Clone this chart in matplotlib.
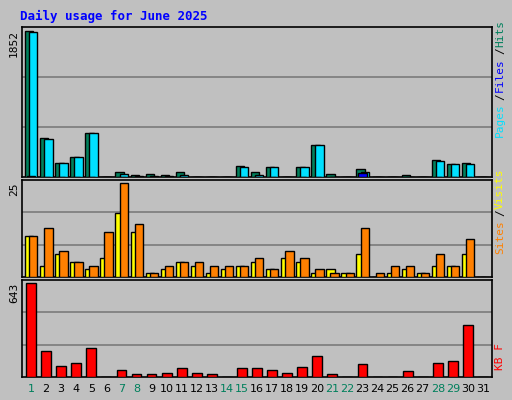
import matplotlib
matplotlib.use("Agg")
import matplotlib.pyplot as plt
import numpy as np

days = list(range(1, 32))
weekend = [1, 7, 8, 14, 15, 21, 22, 28, 29]
hits = [1852, 495, 178, 254, 558, 0, 63, 25, 38, 25, 63, 0, 0, 0, 140, 63, 127, 0, 127, 406, 38, 0, 100, 0, 0, 25, 0, 215, 165, 178, 0]
files = [1840, 482, 178, 254, 558, 0, 38, 10, 10, 10, 25, 0, 0, 0, 127, 25, 127, 0, 127, 406, 0, 0, 63, 0, 0, 0, 0, 203, 165, 165, 0]
pages = [8, 0, 0, 0, 0, 0, 0, 0, 0, 0, 0, 0, 0, 0, 0, 0, 0, 0, 0, 0, 0, 0, 50, 0, 0, 0, 0, 0, 0, 0, 0]
visits = [11, 13, 7, 4, 3, 12, 25, 14, 1, 3, 4, 4, 3, 3, 3, 5, 2, 7, 5, 2, 1, 1, 13, 1, 3, 3, 1, 6, 3, 10, 0]
sites = [11, 3, 6, 4, 2, 5, 17, 12, 1, 2, 4, 3, 1, 2, 3, 4, 2, 5, 4, 1, 2, 1, 6, 0, 1, 2, 1, 3, 3, 6, 0]
kbytes = [643, 175, 75, 98, 196, 0, 47, 19, 19, 26, 61, 26, 19, 0, 61, 61, 47, 26, 68, 145, 19, 0, 89, 0, 0, 40, 0, 98, 110, 354, 0]

W, H = 512, 400
fig = plt.figure(figsize=(W/100, H/100), dpi=100, facecolor="#C0C0C0")
mono = "DejaVu Sans Mono"
fig.text(20/W, 1-16/H, "Daily usage for June 2025", color="#0000FF", fontsize=9,
         fontweight="bold", family=mono, va="center")

x = np.array(days)
L, R = 22/W, 492/W

def panel(top, bot, series, colors, offsets, width, maxval):
    ax = fig.add_axes([L, 1-bot/H, R-L, (bot-top)/H])
    ax.set_facecolor("#C0C0C0")
    for s, c, o in zip(series, colors, offsets):
        ax.bar(x + o, s, width=width, color=c, edgecolor="black", linewidth=1, zorder=3)
    ymax = maxval * 1.03
    ax.set_ylim(0, ymax)
    ax.set_xlim(0.4, 31.6)
    for g in (ymax/3, 2*ymax/3):
        ax.axhline(g, color="#808080", linewidth=1.3, zorder=1)
    ax.set_xticks([]); ax.set_yticks([])
    for sp in ax.spines.values():
        sp.set_linewidth(1.2)
    fig.text(L-8/W, 1-(top+3)/H, str(maxval), rotation=90, ha="center", va="top",
             fontsize=8, family=mono)
    return ax

panel(27, 177, [hits, files, pages], ["#00805C", "#00E0FF", "#0000FF"], [-0.12, 0.15, 0.0], 0.55, max(hits))
panel(180, 277, [sites, visits], ["#FFFF00", "#FF8000"], [-0.12, 0.15], 0.55, max(visits))
panel(280, 377, [kbytes], ["#FF0000"], [0.0], 0.65, max(kbytes))

def vlabel(parts, ybottom):
    y = ybottom
    for txt, col in parts:
        t = fig.text(500/W, y/H, txt, rotation=90, ha="center", va="bottom",
                     color=col, fontsize=8, family=mono)
        y += len(txt) * 7.5
vlabel([("Pages", "#00E0FF"), ("/", "#000000"), ("Files", "#0000FF"), ("/", "#000000"), ("Hits", "#00805C")], 400-137)
vlabel([("Sites", "#FF8000"), ("/", "#000000"), ("Visits", "#FFFF00")], 400-254)
vlabel([("KB F", "#FF0000")], 400-370)

for d in days:
    xf = L + (d - 0.4) / 31.2 * (R - L)
    fig.text(xf, 1-389/H, str(d), ha="center", va="center", fontsize=8,
             color="#00805C" if d in weekend else "black")

fig.savefig("out.png", dpi=100, facecolor=fig.get_facecolor())
